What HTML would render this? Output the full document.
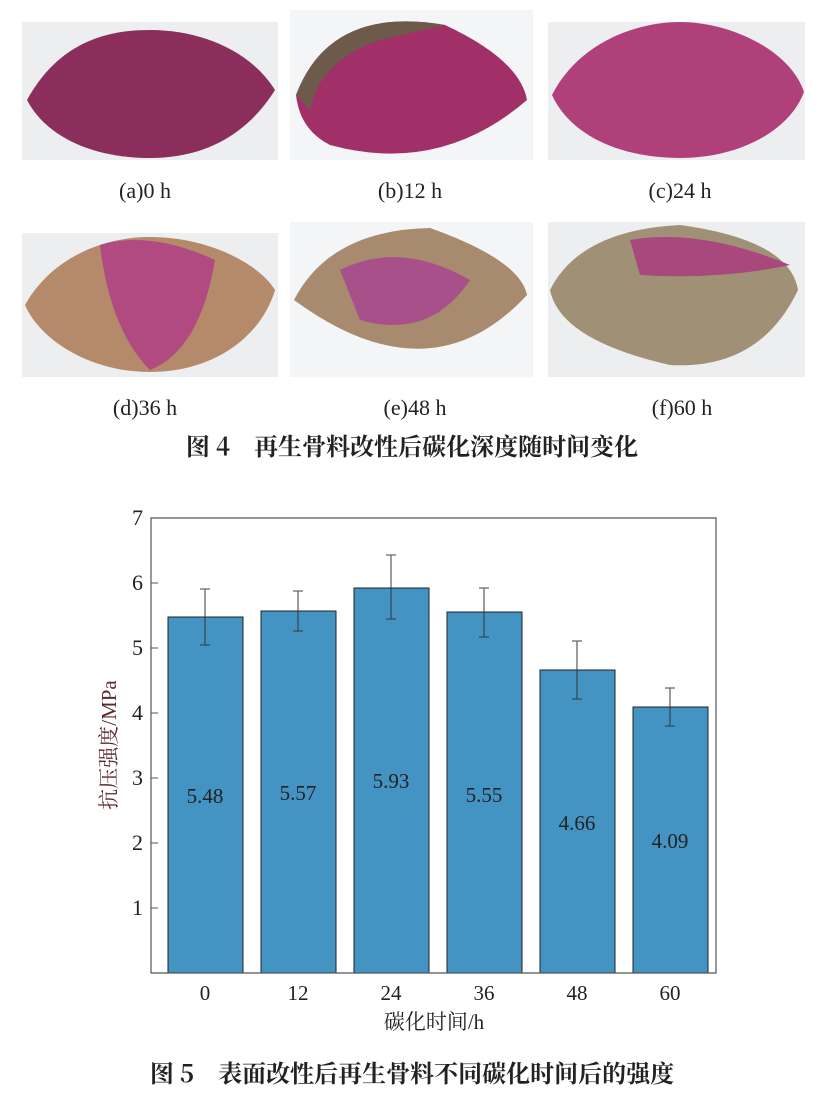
<!DOCTYPE html><html><head><meta charset="utf-8"><style>body{margin:0;background:#fff}svg{display:block}</style></head><body>
<svg width="824" height="1116" viewBox="0 0 824 1116" xmlns="http://www.w3.org/2000/svg" font-family="Liberation Serif, Noto Serif CJK SC, serif">
<g>
<rect x="22" y="22" width="256" height="138" fill="#eceef0"/>
<rect x="290" y="10" width="243" height="150" fill="#f4f5f6"/>
<rect x="548" y="22" width="257" height="138" fill="#eceef0"/>
<rect x="22" y="233" width="256" height="144" fill="#eceef0"/>
<rect x="290" y="222" width="243" height="155" fill="#f4f5f6"/>
<rect x="548" y="222" width="257" height="155" fill="#eceef0"/>
<path d="M27,100 C60,40 110,30 150,30 C200,30 250,50 275,90 C250,130 210,158 150,158 C90,158 45,135 27,100Z" fill="#8c2e5c"/>
<path d="M296,95 Q330,5 445,25 Q520,60 527,100 Q440,175 330,145 Q300,130 296,95Z" fill="#a23068"/>
<path d="M296,95 Q330,5 445,25 L380,40 Q320,60 310,110Z" fill="#6e5a4a"/>
<path d="M552,95 C580,40 640,22 680,22 C730,22 790,50 804,92 C790,130 740,158 680,158 C620,158 570,135 552,95Z" fill="#b0407a"/>
<path d="M25,305 C50,260 100,237 150,237 C210,237 260,265 275,290 C260,340 210,372 150,372 C90,372 40,340 25,305Z" fill="#b48a6a"/>
<path d="M100,245 Q150,230 215,260 Q200,350 150,370 Q110,330 100,245Z" fill="#b14a80"/>
<path d="M294,300 Q330,230 430,228 Q520,260 527,295 Q430,400 294,300Z" fill="#a88a6e"/>
<path d="M340,270 Q400,240 470,280 Q430,340 360,320Z" fill="#a8508a"/>
<path d="M550,290 Q580,230 680,225 Q790,240 798,290 Q760,370 670,365 Q560,340 550,290Z" fill="#a09075"/>
<path d="M630,240 Q700,228 790,265 Q720,280 640,275Z" fill="#a8487c"/>
</g>
<g font-size="22" fill="#222" text-anchor="middle">
<text x="145" y="198">(a)0 h</text><text x="410" y="198">(b)12 h</text><text x="680" y="198">(c)24 h</text>
<text x="145" y="415">(d)36 h</text><text x="415" y="415">(e)48 h</text><text x="682" y="415">(f)60 h</text>
</g>
<text x="412" y="455" font-size="24" font-weight="bold" text-anchor="middle" font-family="Noto Serif CJK SC, serif" fill="#222">图 4　再生骨料改性后碳化深度随时间变化</text>
<g stroke="#222" stroke-width="1">
<rect x="168" y="617" width="75" height="356" fill="#4393c3"/>
<rect x="261" y="611" width="75" height="362" fill="#4393c3"/>
<rect x="354" y="588" width="75" height="385" fill="#4393c3"/>
<rect x="447" y="612" width="75" height="361" fill="#4393c3"/>
<rect x="540" y="670" width="75" height="303" fill="#4393c3"/>
<rect x="633" y="707" width="75" height="266" fill="#4393c3"/>
</g>
<g stroke="#333" stroke-width="1.3" opacity="0.75">
<path d="M205,589V645M200,589h10M200,645h10"/>
<path d="M298,591V631M293,591h10M293,631h10"/>
<path d="M391,555V619M386,555h10M386,619h10"/>
<path d="M484,588V637M479,588h10M479,637h10"/>
<path d="M577,641V699M572,641h10M572,699h10"/>
<path d="M670,688V726M665,688h10M665,726h10"/>
</g>
<path d="M151,518H716V973H151Z" fill="none" stroke="#555" stroke-width="1.2"/>
<g stroke="#555" stroke-width="1"><path d="M151,583h7M151,648h7M151,713h7M151,778h7M151,843h7M151,908h7"/></g>
<g font-size="22" fill="#222" text-anchor="end">
<text x="143" y="525">7</text><text x="143" y="590">6</text><text x="143" y="655">5</text><text x="143" y="720">4</text><text x="143" y="785">3</text><text x="143" y="850">2</text><text x="143" y="915">1</text>
</g>
<g font-size="21" fill="#222" text-anchor="middle">
<text x="205" y="1000">0</text><text x="298" y="1000">12</text><text x="391" y="1000">24</text><text x="484" y="1000">36</text><text x="577" y="1000">48</text><text x="670" y="1000">60</text>
<text x="434" y="1029">碳化时间/h</text>
</g>
<g font-size="21" fill="#222" text-anchor="middle">
<text x="205" y="803">5.48</text><text x="298" y="800">5.57</text><text x="391" y="788">5.93</text><text x="484" y="802">5.55</text><text x="577" y="830">4.66</text><text x="670" y="848">4.09</text>
</g>
<text transform="translate(116,745) rotate(-90)" font-size="21" fill="#5a2a2a" text-anchor="middle">抗压强度/MPa</text>
<text x="412" y="1082" font-size="24" font-weight="bold" text-anchor="middle" font-family="Noto Serif CJK SC, serif" fill="#222">图 5　表面改性后再生骨料不同碳化时间后的强度</text>
</svg>
</body></html>
